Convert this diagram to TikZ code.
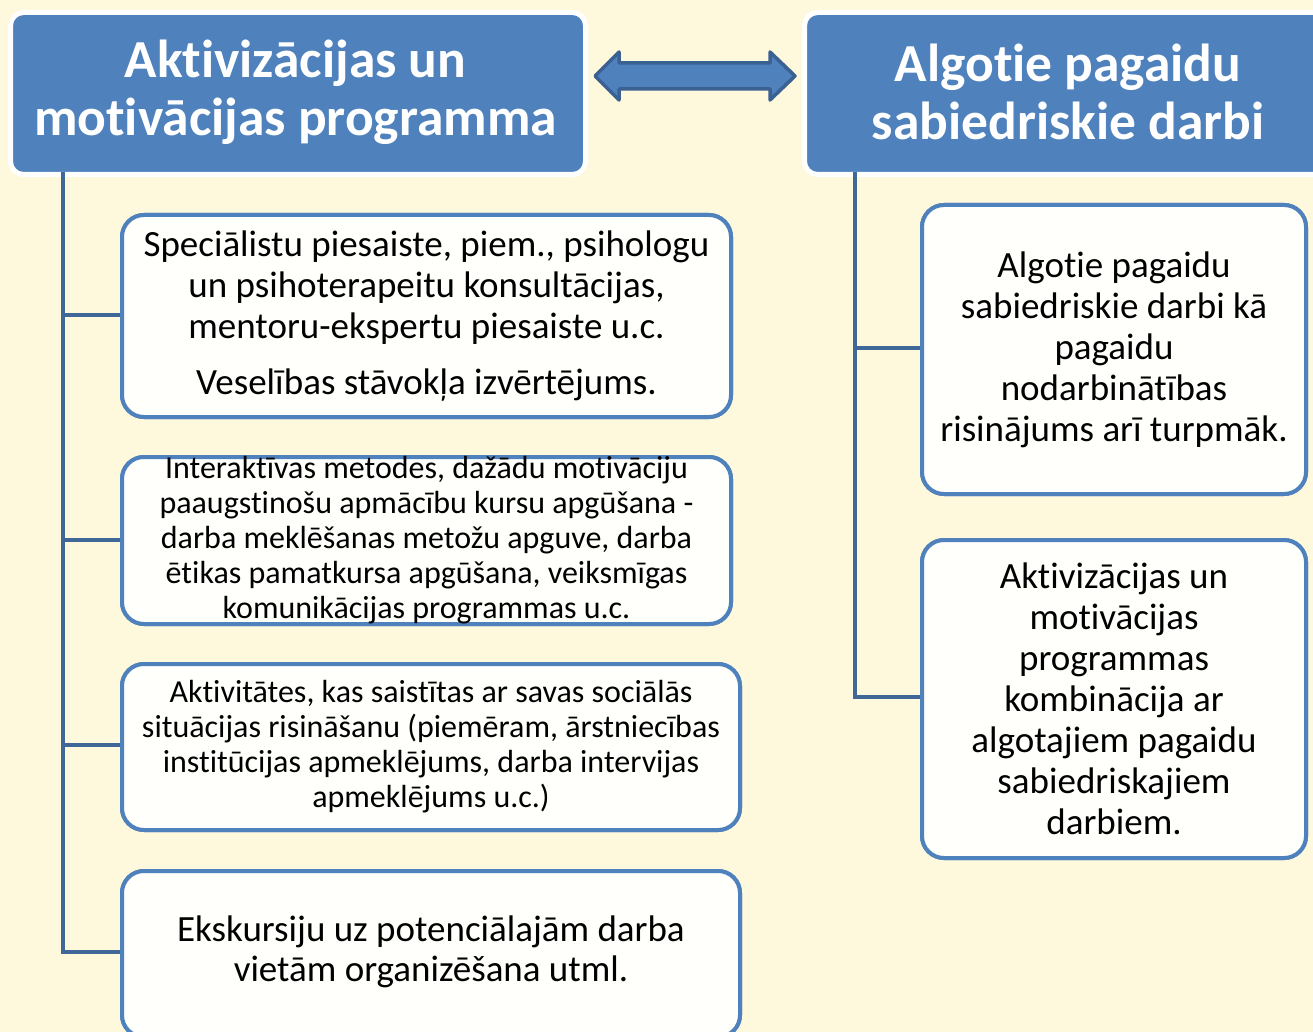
\documentclass[tikz,border=0pt]{standalone}
\usepackage{fontspec}
\setmainfont{Carlito}[RawFeature={-liga}]
\definecolor{bg}{HTML}{FEF8DC}
\definecolor{hblue}{HTML}{4F81BD}
\definecolor{lblue}{HTML}{3F6797}
\definecolor{adark}{HTML}{3B6192}
\definecolor{boxfill}{HTML}{FFFFFC}
\tikzset{
  header/.style={draw=white, line width=5pt, fill=hblue, rounded corners=13pt, anchor=north west, inner sep=0pt},
  htext/.style={text=white, font=\fontsize{53.5}{58}\selectfont\bfseries, align=center, inner sep=0pt},
  itembox/.style={draw=hblue, line width=4pt, fill=boxfill, rounded corners=22pt, anchor=north west, inner sep=0pt},
  itext/.style={text=black, align=center, inner sep=0pt},
  conn/.style={draw=lblue, line width=4.5pt},
  dblarrow/.style={fill=hblue, draw=adark, line width=3.5pt, line join=round}
}
\begin{document}
\begin{tikzpicture}[x=1pt,y=-1pt]
\fill[bg] (0,0) rectangle (1313,1032);
\useasboundingbox (0,0) rectangle (1313,1032);
\begin{scope}
\clip (0,0) rectangle (1313,1032);
% connectors
\coordinate (lt) at (63,172);
\coordinate (l1) at (63,315);
\coordinate (l2) at (63,540);
\coordinate (l3) at (63,745);
\coordinate (l4) at (63,952);
\coordinate (rt) at (855,172);
\coordinate (r1) at (855,348);
\coordinate (r2) at (855,697);
% headers
\node[header, minimum width=575pt, minimum height=162pt] (hl) at (8,10) {};
\node[htext] (hlt) at (295.5,92) {Aktivizācijas un\\motivācijas programma};
\node[header, minimum width=540pt, minimum height=162pt] (hr) at (802,10) {};
\node[htext] (hrt) at (1068,92) {Algotie pagaidu\\sabiedriskie darbi};
% boxes
\node[itembox, minimum width=609pt, minimum height=202pt] (b1) at (120,213) {};
\node[itembox, minimum width=609pt, minimum height=167pt] (b2) at (120,455) {};
\node[itembox, minimum width=618pt, minimum height=166pt] (b3) at (120,662) {};
\node[itembox, minimum width=618pt, minimum height=166pt] (b4) at (120,869) {};
\node[itembox, minimum width=384pt, minimum height=289pt] (c1) at (920,203) {};
\node[itembox, minimum width=384pt, minimum height=318pt] (c2) at (920,538) {};
\draw[conn] (lt) -- (l4) -- (b4.west |- l4);
\draw[conn] (l1) -- (b1.west |- l1);
\draw[conn] (l2) -- (b2.west |- l2);
\draw[conn] (l3) -- (b3.west |- l3);
\draw[conn] (rt) -- (r2) -- (c2.west |- r2);
\draw[conn] (r1) -- (c1.west |- r1);
\node[itembox, minimum width=609pt, minimum height=202pt] at (120,213) {};
\node[itembox, minimum width=609pt, minimum height=167pt] at (120,455) {};
\node[itembox, minimum width=618pt, minimum height=166pt] at (120,662) {};
\node[itembox, minimum width=618pt, minimum height=166pt] at (120,869) {};
\node[itembox, minimum width=384pt, minimum height=289pt] at (920,203) {};
\node[itembox, minimum width=384pt, minimum height=318pt] at (920,538) {};
% texts
\node[itext, font=\fontsize{37}{41}\selectfont] (t1) at (b1.center) {Speciālistu piesaiste, piem., psihologu\\un psihoterapeitu konsultācijas,\\mentoru-ekspertu piesaiste u.c.\\[15pt]Veselības stāvokļa izvērtējums.};
\node[itext, font=\fontsize{32}{35}\selectfont] (t2) at (b2.center) {Interaktīvas metodes, dažādu motivāciju\\paaugstinošu apmācību kursu apgūšana -\\darba meklēšanas metožu apguve, darba\\ētikas pamatkursa apgūšana, veiksmīgas\\komunikācijas programmas u.c.};
\node[itext, font=\fontsize{32}{35}\selectfont] (t3) at (b3.center) {Aktivitātes, kas saistītas ar savas sociālās\\situācijas risināšanu (piemēram, ārstniecības\\institūcijas apmeklējums, darba intervijas\\apmeklējums u.c.)};
\node[itext, font=\fontsize{37}{40}\selectfont] (t4) at ([yshift=-83pt]b4.north) {Ekskursiju uz potenciālajām darba\\vietām organizēšana utml.};
\node[itext, font=\fontsize{37}{41}\selectfont] (u1) at (c1.center) {Algotie pagaidu\\sabiedriskie darbi kā\\pagaidu\\nodarbinātības\\risinājums arī turpmāk.};
\node[itext, font=\fontsize{37}{41}\selectfont] (u2) at (c2.center) {Aktivizācijas un\\motivācijas\\programmas\\kombinācija ar\\algotajiem pagaidu\\sabiedriskajiem\\darbiem.};
% double arrow
\draw[dblarrow] (595,76) -- (619,52) -- (619,63) -- (770,63) -- (770,52) -- (795,76) -- (770,100) -- (770,89) -- (619,89) -- (619,100) -- cycle;
\end{scope}
\end{tikzpicture}
\end{document}
